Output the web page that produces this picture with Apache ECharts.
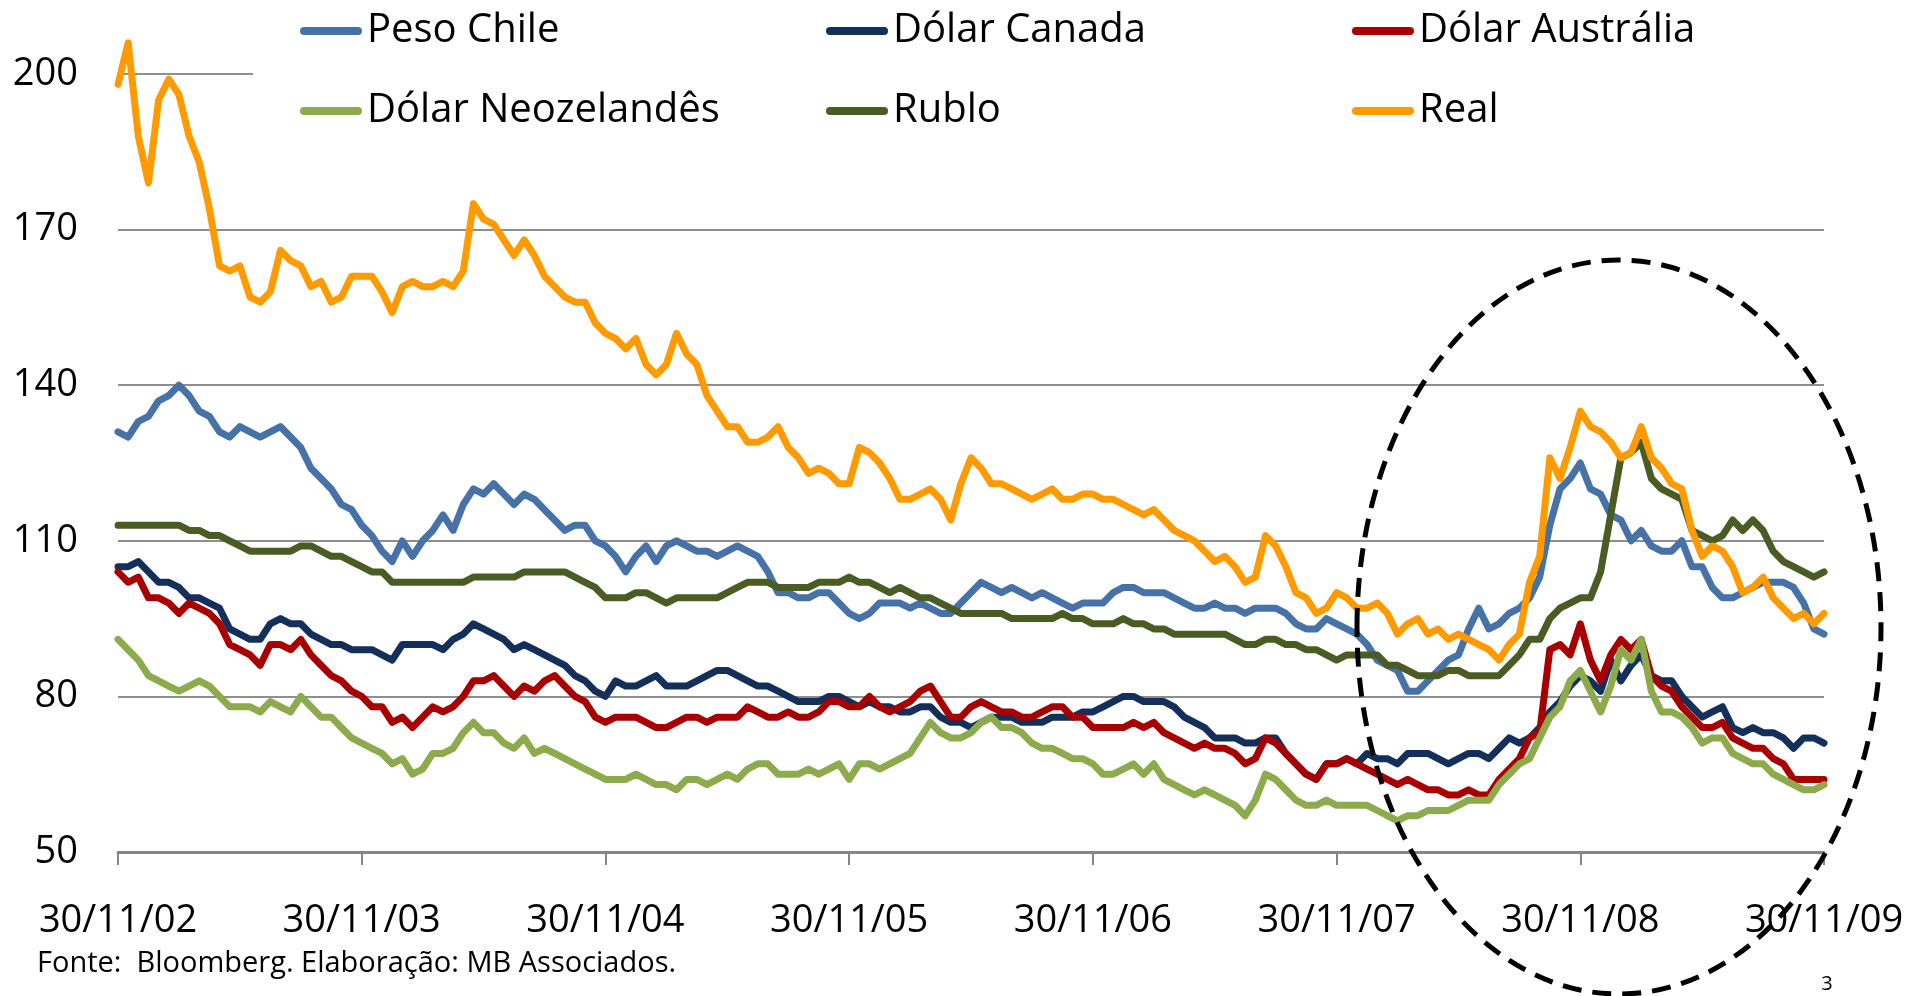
<!DOCTYPE html>
<html>
<head>
<meta charset="utf-8">
<title>Moedas</title>
<script src="https://cdn.jsdelivr.net/npm/echarts@6/dist/echarts.min.js"></script>
<style>
  html, body { margin: 0; padding: 0; background: #fff; }
  #main { width: 1927px; height: 996px; }
</style>
</head>
<body>
<div id="main"></div>
<script>
// valores quinzenais, 30/11/02 a 30/11/09
var pesoChile = [131,130,133,134,137,138,140,138,135,134,131,130,132,131,130,131,132,130,128,124,122,120,117,116,113,111,108,106,110,
  107,110,112,115,112,117,120,119,121,119,117,119,118,116,114,112,113,113,110,109,107,104,107,109,106,109,110,109,
  108,108,107,108,109,108,107,104,100,100,99,99,100,100,98,96,95,96,98,98,98,97,98,97,96,96,98,100,102,
  101,100,101,100,99,100,99,98,97,98,98,98,100,101,101,100,100,100,99,98,97,97,98,97,97,96,97,97,
  97,96,94,93,93,95,94,93,92,90,87,86,85,81,81,83,85,87,88,93,97,93,94,96,97,99,103,113,
  120,122,125,120,119,115,114,110,112,109,108,108,110,105,105,101,99,99,100,101,102,102,102,101,98,93,92];

var dolarCanada = [105,105,106,104,102,102,101,99,99,98,97,93,92,91,91,94,95,94,94,92,91,90,90,89,89,89,88,87,90,
  90,90,90,89,91,92,94,93,92,91,89,90,89,88,87,86,84,83,81,80,83,82,82,83,84,82,82,82,
  83,84,85,85,84,83,82,82,81,80,79,79,79,80,80,79,78,79,78,78,77,77,78,78,76,75,75,74,75,
  76,76,76,75,75,75,76,76,76,77,77,78,79,80,80,79,79,79,78,76,75,74,72,72,72,71,71,72,
  72,69,67,65,64,67,67,68,67,69,68,68,67,69,69,69,68,67,68,69,69,68,70,72,71,72,74,77,
  79,82,84,83,81,87,83,86,88,84,83,83,80,78,76,77,78,74,73,74,73,73,72,70,72,72,71];

var dolarAustralia = [104,102,103,99,99,98,96,98,97,96,94,90,89,88,86,90,90,89,91,88,86,84,83,81,80,78,78,75,76,
  74,76,78,77,78,80,83,83,84,82,80,82,81,83,84,82,80,79,76,75,76,76,76,75,74,74,75,76,
  76,75,76,76,76,78,77,76,76,77,76,76,77,79,79,78,78,80,78,77,78,79,81,82,79,76,76,78,79,
  78,77,77,76,76,77,78,78,76,76,74,74,74,74,75,74,75,73,72,71,70,71,70,70,69,67,68,72,
  71,69,67,65,64,67,67,68,67,66,65,64,63,64,63,62,62,61,61,62,61,61,64,66,68,72,73,89,
  90,88,94,87,83,88,91,89,91,84,82,81,78,76,74,74,75,72,71,70,70,68,67,64,64,64,64];

var dolarNZ = [91,89,87,84,83,82,81,82,83,82,80,78,78,78,77,79,78,77,80,78,76,76,74,72,71,70,69,67,68,
  65,66,69,69,70,73,75,73,73,71,70,72,69,70,69,68,67,66,65,64,64,64,65,64,63,63,62,64,
  64,63,64,65,64,66,67,67,65,65,65,66,65,66,67,64,67,67,66,67,68,69,72,75,73,72,72,73,75,
  76,74,74,73,71,70,70,69,68,68,67,65,65,66,67,65,67,64,63,62,61,62,61,60,59,57,60,65,
  64,62,60,59,59,60,59,59,59,59,58,57,56,57,57,58,58,58,59,60,60,60,63,65,67,68,72,76,
  78,83,85,81,77,82,89,87,91,81,77,77,76,74,71,72,72,69,68,67,67,65,64,63,62,62,63];

var rublo = [113,113,113,113,113,113,113,112,112,111,111,110,109,108,108,108,108,108,109,109,108,107,107,106,105,104,104,102,102,
  102,102,102,102,102,102,103,103,103,103,103,104,104,104,104,104,103,102,101,99,99,99,100,100,99,98,99,99,
  99,99,99,100,101,102,102,102,101,101,101,101,102,102,102,103,102,102,101,100,101,100,99,99,98,97,96,96,96,
  96,96,95,95,95,95,95,96,95,95,94,94,94,95,94,94,93,93,92,92,92,92,92,92,91,90,90,91,
  91,90,90,89,89,88,87,88,88,88,88,86,86,85,84,84,84,85,85,84,84,84,84,86,88,91,91,95,
  97,98,99,99,104,115,126,127,129,122,120,119,118,112,111,110,111,114,112,114,112,108,106,105,104,103,104];

var real = [198,206,188,179,195,199,196,188,183,174,163,162,163,157,156,158,166,164,163,159,160,156,157,161,161,161,158,154,159,
  160,159,159,160,159,162,175,172,171,168,165,168,165,161,159,157,156,156,152,150,149,147,149,144,142,144,150,146,
  144,138,135,132,132,129,129,130,132,128,126,123,124,123,121,121,128,127,125,122,118,118,119,120,118,114,121,126,124,
  121,121,120,119,118,119,120,118,118,119,119,118,118,117,116,115,116,114,112,111,110,108,106,107,105,102,103,111,
  109,105,100,99,96,97,100,99,97,97,98,96,92,94,95,92,93,91,92,91,90,89,87,90,92,102,107,126,
  122,128,135,132,131,129,126,127,132,126,124,121,120,112,107,109,108,105,100,101,103,99,97,95,96,94,96];

var seriesNames = ['Peso Chile', 'Dólar Canada', 'Dólar Austrália', 'Dólar Neozelandês', 'Rublo', 'Real'];
var seriesColors = ['#4672A8', '#14305A', '#A80000', '#8DAA4C', '#4A5C23', '#FF9A00'];
var seriesData = [pesoChile, dolarCanada, dolarAustralia, dolarNZ, rublo, real];

// datas quinzenais: 30/11/02, 15/12/02, 30/12/02, ...
var categories = [];
for (var i = 0; i < real.length; i++) {
  var m = 10 + Math.ceil(i / 2);
  var mm = m % 12 + 1;
  var yy = 2 + Math.floor(m / 12);
  var dd = i % 2 ? '15' : (mm === 2 ? '28' : '30');
  categories.push(dd + '/' + (mm < 10 ? '0' : '') + mm + '/0' + yy);
}

var font = 'Open Sans';

function legendCol(names, left) {
  return {
    orient: 'vertical',
    left: left,
    top: 11,
    padding: 0,
    itemGap: 40,
    itemWidth: 62,
    itemHeight: 8,
    selectedMode: false,
    icon: 'path://M4,0 H58 A4,4 0 0 1 58,8 H4 A4,4 0 0 1 4,0 Z',
    textStyle: { fontSize: 40, fontFamily: font, color: '#000' },
    data: names
  };
}

var myChart = echarts.init(document.getElementById('main'));

var option = {
  animation: false,
  backgroundColor: '#fff',
  legend: [
    legendCol(['Peso Chile', 'Dólar Neozelandês'], 300),
    legendCol(['Dólar Canada', 'Rublo'], 826),
    legendCol(['Dólar Austrália', 'Real'], 1352)
  ],
  grid: { left: 118, right: 103, top: 74, bottom: 144, containLabel: false, outerBoundsMode: 'none' },
  xAxis: {
    type: 'category',
    boundaryGap: false,
    data: categories,
    axisLine: { lineStyle: { color: '#868686', width: 3 } },
    axisTick: { interval: 23, length: 13, lineStyle: { color: '#868686', width: 2 } },
    axisLabel: { interval: 23, margin: 50, fontSize: 38, fontFamily: font, color: '#000' },
    splitLine: { show: false }
  },
  yAxis: {
    type: 'value',
    min: 50,
    max: 200,
    interval: 30,
    axisLine: { show: false },
    axisTick: { show: false },
    axisLabel: { margin: 40, fontSize: 38, fontFamily: font, color: '#000' },
    splitLine: { lineStyle: { color: '#8E8E8E', width: 2 } }
  },
  graphic: [
    // fundo branco da legenda (esconde a grade de 200)
    { type: 'rect', z: 1, shape: { x: 253, y: 0, width: 1674, height: 140 }, style: { fill: '#fff' } },
    { type: 'ellipse', z: 100, shape: { cx: 1619, cy: 627, rx: 262, ry: 367 },
      style: { fill: null, stroke: '#000', lineWidth: 5, lineDash: [19, 11] } },
    { type: 'text', z: 100, x: 37, y: 964,
      style: { text: 'Fonte:  Bloomberg. Elaboração: MB Associados.', font: '29px "Open Sans"', fill: '#000', verticalAlign: 'middle' } },
    { type: 'text', z: 100, x: 1827, y: 984,
      style: { text: '3', font: '20px "Open Sans"', fill: '#000', align: 'center', verticalAlign: 'middle' } }
  ],
  series: seriesNames.map(function (name, k) {
    return {
      name: name,
      type: 'line',
      data: seriesData[k],
      symbol: 'none',
      clip: false,
      color: seriesColors[k],
      lineStyle: { width: 7, color: seriesColors[k], cap: 'round', join: 'round' }
    };
  })
};

myChart.setOption(option);
</script>
</body>
</html>
